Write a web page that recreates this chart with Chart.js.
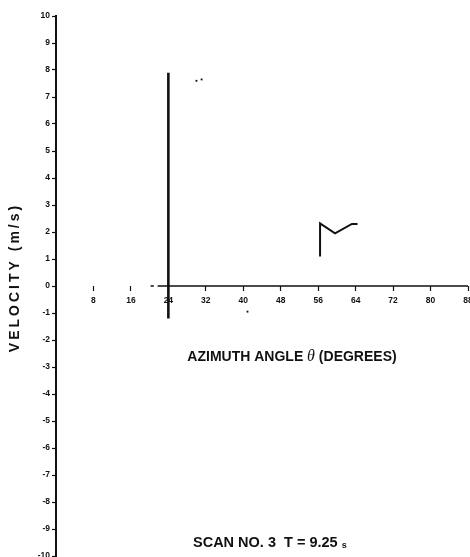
<!DOCTYPE html>
<html lang="en">
<head>
    <meta charset="UTF-8">
    <title>Scan 3 velocity</title>
    <script src="https://cdn.jsdelivr.net/npm/chart.js@4.4.0/dist/chart.umd.min.js"></script>
    <style>
        body {margin: 0; background: #fff}
        #chart {display: block}
    </style>
</head>
<body>
    <canvas id="chart" width="470" height="557"></canvas>
    <script>
        // tick labels
        const xTicks = [8, 16, 24, 32, 40, 48, 56, 64, 72, 80, 88];
        const yTicks = [10, 9, 8, 7, 6, 5, 4, 3, 2, 1, 0, -1, -2, -3, -4, -5, -6, -7, -8, -9, -10];

        // trace at 24 degrees
        const spikeX = [24, 24];
        const spikeY = [7.9, -1.2];

        // trace near 56-64 degrees
        const hookX = [56.4, 56.4, 59.6, 63.2, 64.4];
        const hookY = [1.09, 2.32, 1.95, 2.3, 2.3];

        // isolated points
        const dotX = [30.0, 31.1, 40.9];
        const dotY = [7.6, 7.65, -0.95];

        // zero line (broken near the left)
        const zeroX = [20.2, 20.9, 21.3, 21.7, 90];
        const zeroY = [0, 0, null, 0, 0];

        const pts = (xs, ys) => xs.map((x, i) => ({x: x, y: ys[i]}));
        const ink = '#111';
        const sans = '"Liberation Sans", Arial, sans-serif';

        const textPlugin = {
            id: 'labels',
            afterDraw(chart) {
                const ctx = chart.ctx;
                ctx.save();
                ctx.fillStyle = ink;
                ctx.textBaseline = 'middle';
                ctx.textAlign = 'left';

                // x axis title with italic theta
                const bold = 'bold 14px ' + sans;
                const ital = 'italic 16px "Liberation Serif", serif';
                const parts = [['AZIMUTH ANGLE ', bold], ['θ', ital], [' (DEGREES)', bold]];
                let w = 0;
                parts.forEach(p => { ctx.font = p[1]; w += ctx.measureText(p[0]).width; });
                let x = 292 - w / 2;
                parts.forEach(p => {
                    ctx.font = p[1];
                    ctx.fillText(p[0], x, 357);
                    x += ctx.measureText(p[0]).width;
                });

                // scan caption
                ctx.font = 'bold 14.5px ' + sans;
                const cap = 'SCAN NO. 3  T = 9.25 ';
                const capW = ctx.measureText(cap).width;
                ctx.fillText(cap, 193, 543);
                ctx.font = 'bold 9px ' + sans;
                ctx.fillText('s', 193 + capW, 546);

                // y axis title, spaced out
                ctx.translate(15, 279);
                ctx.rotate(-Math.PI / 2);
                ctx.textAlign = 'center';
                ctx.font = 'bold 14px ' + sans;
                ctx.letterSpacing = '3px';
                ctx.fillText('VELOCITY (m/s)', 1.5, 0);
                ctx.restore();
            }
        };

        new Chart(document.getElementById('chart'), {
            type: 'scatter',
            data: {
                datasets: [
                    {data: pts(zeroX, zeroY), showLine: true, borderColor: ink, borderWidth: 1.3, pointRadius: 0, spanGaps: false},
                    {data: pts(spikeX, spikeY), showLine: true, borderColor: ink, borderWidth: 2.6, pointRadius: 0},
                    {data: pts(hookX, hookY), showLine: true, borderColor: ink, borderWidth: 2, pointRadius: 0},
                    {data: pts(dotX, dotY), showLine: false, backgroundColor: ink, borderWidth: 0, pointRadius: 1.3, pointStyle: 'rect'}
                ]
            },
            options: {
                responsive: false,
                animation: false,
                devicePixelRatio: 1,
                layout: {autoPadding: false, padding: {left: 0, top: 16, right: 2, bottom: 1}},
                plugins: {legend: {display: false}, tooltip: {enabled: false}},
                scales: {
                    x: {
                        type: 'linear',
                        min: 0,
                        max: 88,
                        position: {y: 0},
                        border: {display: false},
                        grid: {drawOnChartArea: false, tickLength: 5, tickWidth: 1.2, tickColor: ink},
                        ticks: {
                            color: ink,
                            padding: 5,
                            maxRotation: 0,
                            autoSkip: false,
                            font: {family: sans, size: 8.5, weight: 'bold'}
                        },
                        afterBuildTicks: s => { s.ticks = xTicks.map(v => ({value: v})); },
                        afterFit: s => { s.paddingLeft = 0; s.paddingRight = 0; s.paddingTop = 0; s.paddingBottom = 0; }
                    },
                    y: {
                        type: 'linear',
                        min: -10,
                        max: 10,
                        position: 'left',
                        border: {display: true, color: ink, width: 2},
                        grid: {drawOnChartArea: false, tickLength: 4, tickWidth: 1.2, tickColor: ink},
                        ticks: {
                            color: ink,
                            padding: 2,
                            autoSkip: false,
                            font: {family: sans, size: 8.5, weight: 'bold'}
                        },
                        afterBuildTicks: s => { s.ticks = yTicks.map(v => ({value: v})); },
                        afterFit: s => { s.width = 56; s.paddingTop = 0; s.paddingBottom = 0; }
                    }
                }
            },
            plugins: [textPlugin]
        });
    </script>
</body>
</html>
